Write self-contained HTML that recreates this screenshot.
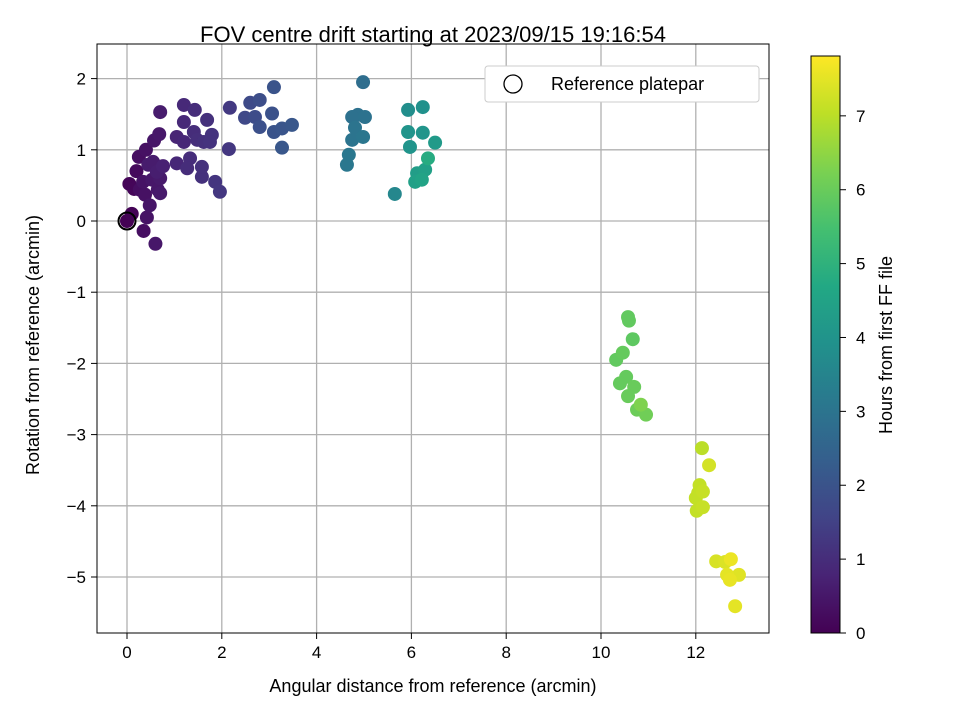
<!DOCTYPE html>
<html><head><meta charset="utf-8"><style>
body{margin:0;background:#fff;}
svg{font-family:"Liberation Sans","DejaVu Sans",sans-serif;}
</style></head><body>
<svg id="chart" width="960" height="720" xmlns="http://www.w3.org/2000/svg">
<defs>
<linearGradient id="vir" x1="0" y1="1" x2="0" y2="0">
<stop offset="0" stop-color="#440154"/><stop offset="0.1" stop-color="#482475"/><stop offset="0.2" stop-color="#414487"/><stop offset="0.3" stop-color="#355f8d"/><stop offset="0.4" stop-color="#2a788e"/><stop offset="0.5" stop-color="#21918c"/><stop offset="0.6" stop-color="#22a884"/><stop offset="0.7" stop-color="#44bf70"/><stop offset="0.8" stop-color="#7ad151"/><stop offset="0.9" stop-color="#bddf26"/><stop offset="1" stop-color="#fde725"/>
</linearGradient>
<clipPath id="clip"><rect x="97" y="44" width="672" height="589"/></clipPath>
</defs>
<rect width="960" height="720" fill="#fff"/>
<text x="433" y="42" font-size="22" text-anchor="middle">FOV centre drift starting at 2023/09/15 19:16:54</text>
<g id="grid"></g>
<g id="points" clip-path="url(#clip)"></g>
<circle cx="127" cy="221" r="8.5" fill="none" stroke="#000" stroke-width="2"/>
<rect x="97" y="44" width="672" height="589" fill="none" stroke="#000" stroke-width="1"/>
<g id="xticks"></g>
<g id="yticks"></g>
<text x="433" y="692" font-size="18" text-anchor="middle">Angular distance from reference (arcmin)</text>
<text transform="translate(39,345) rotate(-90)" font-size="18" text-anchor="middle">Rotation from reference (arcmin)</text>
<g>
<rect x="485" y="66" width="274" height="36" rx="3" fill="#fff" stroke="#ccc"/>
<circle cx="513" cy="84" r="9" fill="none" stroke="#000" stroke-width="1.3"/>
<text x="551" y="90" font-size="18">Reference platepar</text>
</g>
<rect x="811" y="56" width="29" height="577" fill="url(#vir)" stroke="#000" stroke-width="1"/>
<g id="cticks"></g>
<text transform="translate(892,345) rotate(-90)" font-size="18" text-anchor="middle">Hours from first FF file</text>
</svg>
<script>
const xs=[0,0.1,0.05,0.15,0.2,0.25,0.4,0.57,0.68,0.7,0.35,0.6,0.42,0.48,0.38,0.53,0.7,0.65,0.7,0.45,0.55,0.27,0.34,0.63,0.76,
1.2,1.43,2.17,1.2,1.69,1.05,1.41,1.79,1.62,2.15,1.2,1.05,1.33,1.27,1.58,1.58,1.86,1.96,1.48,1.75,
3.1,2.6,2.8,3.06,2.49,2.7,2.8,3.1,3.27,3.48,3.27,
4.98,4.87,4.75,5.02,4.81,4.98,4.75,4.68,4.64,
5.65,5.93,6.24,5.93,6.24,6.5,5.97,6.35,6.12,6.29,6.08,6.22,
10.57,10.59,10.67,10.32,10.46,10.53,10.4,10.7,10.57,10.84,10.76,10.95,
12.13,12.28,12.08,12.05,12.0,12.15,12.15,12.02,12.43,12.62,12.74,12.66,12.72,12.91,12.83];
const ys=[0,0.1,0.52,0.45,0.7,0.9,1.0,1.13,1.22,1.53,-0.14,-0.32,0.05,0.22,0.37,0.58,0.6,0.44,0.39,0.79,0.83,0.44,0.55,0.69,0.77,
1.63,1.56,1.59,1.39,1.42,1.18,1.25,1.21,1.11,1.01,1.11,0.81,0.88,0.74,0.62,0.76,0.55,0.41,1.14,1.11,
1.88,1.66,1.7,1.51,1.45,1.46,1.32,1.25,1.3,1.35,1.03,
1.95,1.49,1.46,1.46,1.31,1.18,1.14,0.93,0.79,
0.38,1.56,1.6,1.25,1.24,1.1,1.04,0.88,0.67,0.72,0.55,0.58,
-1.35,-1.4,-1.66,-1.95,-1.85,-2.19,-2.28,-2.33,-2.46,-2.58,-2.65,-2.72,
-3.19,-3.43,-3.71,-3.82,-3.89,-3.8,-4.02,-4.07,-4.78,-4.79,-4.75,-4.97,-5.04,-4.97,-5.41];
const hours=[0,0.05,0.1,0.12,0.2,0.3,0.35,0.45,0.5,0.6,0.3,0.5,0.4,0.45,0.35,0.5,0.55,0.5,0.55,0.6,0.6,0.3,0.4,0.65,0.7,
0.9,1.0,1.3,0.9,1.1,0.8,1.0,1.15,1.1,1.25,0.85,0.85,1.0,1.0,1.1,1.1,1.2,1.25,1.05,1.15,
2.0,1.75,1.85,1.95,1.7,1.8,1.9,2.0,2.05,2.1,2.1,
2.8,2.9,2.9,2.95,3.0,3.05,3.0,3.1,3.1,
3.6,3.8,3.9,4.0,4.05,4.2,4.0,4.8,4.3,4.4,4.4,4.5,
5.9,5.9,5.85,5.9,5.95,5.95,5.95,6.0,6.0,6.3,6.05,6.1,
7.0,7.3,7.1,7.1,7.1,7.15,7.15,7.1,7.35,7.4,7.6,7.5,7.55,7.45,7.5];
const xTicks=[0,2,4,6,8,10,12];
const yTicks=[2,1,0,-1,-2,-3,-4,-5];
const cTicks=[0,1,2,3,4,5,6,7];
const HMAX=7.81;
const X=v=>127+v*47.4, Y=v=>221-v*71.2, C=v=>633-v*(577/HMAX);
const NS="http://www.w3.org/2000/svg";
const vir=["#440154","#482475","#414487","#355f8d","#2a788e","#21918c","#22a884","#44bf70","#7ad151","#bddf26","#fde725"];
function hex(h){return [1,3,5].map(i=>parseInt(h.substr(i,2),16));}
function col(t){t=Math.max(0,Math.min(1,t))*10;const i=Math.min(9,Math.floor(t)),f=t-i;const a=hex(vir[i]),b=hex(vir[i+1]);return "rgb("+a.map((v,k)=>Math.round(v+(b[k]-v)*f)).join(",")+")";}
function mk(tag,attrs,parent){const e=document.createElementNS(NS,tag);for(const k in attrs)e.setAttribute(k,attrs[k]);parent.appendChild(e);return e;}
const grid=document.getElementById('grid'),xt=document.getElementById('xticks'),yt=document.getElementById('yticks'),ct=document.getElementById('cticks'),pts=document.getElementById('points');
xTicks.forEach(v=>{const x=X(v);
const g=mk('line',{x1:x,x2:x,y1:44,y2:633,stroke:'#b0b0b0','stroke-width':1.3},grid);


const t=mk('line',{x1:x,x2:x,y1:633,y2:639,stroke:'#000'},xt);


const l=mk('text',{x:x,y:658,'font-size':17,'text-anchor':'middle'},xt);l.textContent=v;

});
yTicks.forEach(v=>{const y=Y(v);
const g=mk('line',{x1:97,x2:769,y1:y,y2:y,stroke:'#b0b0b0','stroke-width':1.3},grid);


const t=mk('line',{x1:91,x2:97,y1:y,y2:y,stroke:'#000'},yt);


const l=mk('text',{x:86,y:y+6,'font-size':17,'text-anchor':'end'},yt);l.textContent=v<0?'\u2212'+(-v):v;

});
cTicks.forEach(v=>{const y=C(v);
const t=mk('line',{x1:840,x2:846,y1:y,y2:y,stroke:'#000'},ct);


const l=mk('text',{x:856,y:y+6,'font-size':17},ct);l.textContent=v;

});
const idx=hours.map((h,i)=>i).sort((a,b)=>hours[a]-hours[b]);
idx.forEach(i=>{const c=mk('circle',{cx:X(xs[i]),cy:Y(ys[i]),r:7,fill:col(hours[i]/HMAX)},pts);

});
</script>
</body></html>
